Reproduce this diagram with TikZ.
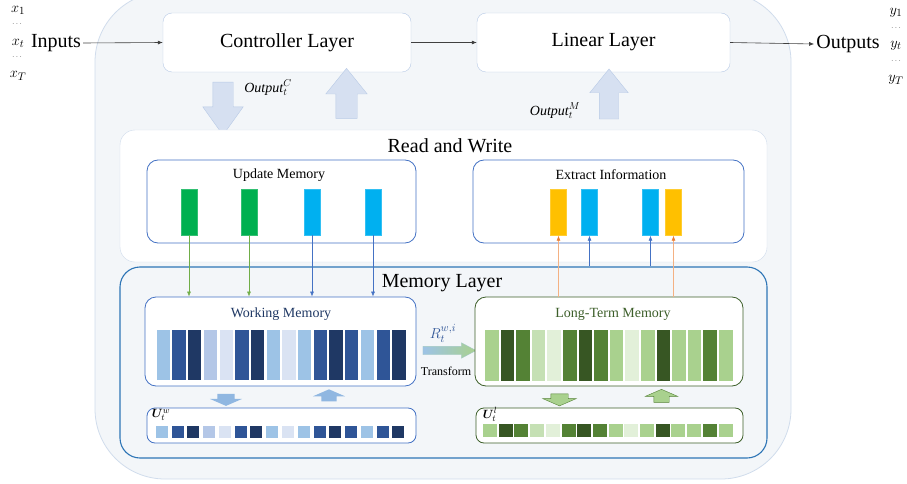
\documentclass[tikz,border=0pt]{standalone}
\usepackage{amsmath,bm}
\usepackage{fontspec}
\setmainfont{Liberation Serif}
\usetikzlibrary{arrows.meta,shapes.arrows}

\definecolor{outerbg}{HTML}{F3F6F9}
\definecolor{outerline}{HTML}{D0DCEC}
\definecolor{softline}{HTML}{B8CAE6}
\definecolor{fatfill}{HTML}{D6E0F1}
\definecolor{boxblue}{HTML}{4472C4}
\definecolor{memblue}{HTML}{2E75B6}
\definecolor{boxgreen}{HTML}{3D5F2A}
\definecolor{updgreen}{HTML}{00B050}
\definecolor{updcyan}{HTML}{00B0F0}
\definecolor{extyellow}{HTML}{FFC000}
\definecolor{linegreen}{HTML}{70AD47}
\definecolor{lineorange}{HTML}{F4B183}
\definecolor{tiporange}{HTML}{ED7D31}
\definecolor{wl}{HTML}{9DC3E6}
\definecolor{wm}{HTML}{2F5597}
\definecolor{wd}{HTML}{1F3864}
\definecolor{wp}{HTML}{B4C7E7}
\definecolor{wv}{HTML}{DAE3F3}
\definecolor{gl}{HTML}{A9D18E}
\definecolor{gm}{HTML}{548235}
\definecolor{gd}{HTML}{375623}
\definecolor{gp}{HTML}{C5E0B4}
\definecolor{gv}{HTML}{E2F0D9}

\begin{document}
\begin{tikzpicture}[x=1pt,y=-1pt,
    bigtext/.style={font=\fontsize{20}{24}\selectfont, inner sep=2pt},
    midtext/.style={font=\fontsize{14}{16}\selectfont, inner sep=1pt},
    smalltext/.style={font=\fontsize{12}{14}\selectfont, inner sep=1pt},
    mathtext/.style={font=\fontsize{15}{17}\selectfont, inner sep=1pt},
    layerbox/.style={draw=softline, fill=white, rounded corners=9pt, font=\fontsize{20}{24}\selectfont},
    innerbox/.style={draw=#1, fill=white, rounded corners=11pt, line width=0.8pt},
    bar/.style={minimum width=16pt, minimum height=46pt, inner sep=0pt, fill=#1, draw=#1!80!white},
    cell/.style={minimum width=13.3pt, minimum height=50pt, inner sep=0pt, fill=#1},
    square/.style={minimum width=12pt, minimum height=12.5pt, inner sep=0pt, fill=#1},
    fatarrow/.style={single arrow, draw=softline, fill=fatfill, inner sep=0pt},
    thinarrow/.style={draw=black!75, line width=0.6pt, -{Latex[length=5pt,width=4pt]}},
    linkarrow/.style={draw=#1, line width=0.6pt, -{Latex[length=5pt,width=4pt]}}]
  \useasboundingbox (0,0) rectangle (907,484);

  % Outer box
  \draw[draw=outerline, fill=outerbg, line width=0.8pt, rounded corners=70pt] (95,-8) rectangle (791,479);

  % Controller and linear layers
  \node[layerbox, minimum width=248pt, minimum height=59pt] (ctrl) at (287,42.5) {Controller Layer};
  \node[layerbox, minimum width=253pt, minimum height=59pt] (lin) at (603.5,42.5) {Linear Layer};

  % Inputs and outputs
  \node[bigtext] (inp) at (56,43) {Inputs};
  \node[mathtext] (x1) at (18,10) {$x_1$};
  \node[smalltext] (xd1) at (17,24) {\scriptsize$\ldots$};
  \node[mathtext] (xt) at (18,43) {$x_t$};
  \node[smalltext] (xd2) at (17,57) {\scriptsize$\ldots$};
  \node[mathtext] (xT) at (18,76) {$x_T$};
  \node[bigtext] (outp) at (848,44) {Outputs};
  \node[mathtext] (y1) at (896,13) {$y_1$};
  \node[smalltext] (yd1) at (896,28) {\scriptsize$\ldots$};
  \node[mathtext] (yt) at (896,46) {$y_t$};
  \node[smalltext] (yd2) at (896,61) {\scriptsize$\ldots$};
  \node[mathtext] (yT) at (896,80) {$y_T$};
  \draw[thinarrow] (inp.east) -- (ctrl.west);
  \draw[thinarrow] (ctrl.east) -- (lin.west);
  \draw[thinarrow] (lin.east) -- (outp.west);

  % Fat arrows to and from the read/write block
  \node[fatarrow, rotate=-90, minimum height=53pt, inner ysep=10pt,
        single arrow head extend=10pt, single arrow tip angle=71] (dnC) at (223,101.5) {};
  \node[fatarrow, rotate=90, minimum height=50pt, inner ysep=10.5pt,
        single arrow head extend=10pt, single arrow tip angle=78] (upC) at (346.5,100) {};
  \node[fatarrow, rotate=90, minimum height=50pt, inner ysep=9.5pt,
        single arrow head extend=9.5pt, single arrow tip angle=78] (upM) at (609,100) {};
  \node[mathtext, font=\fontsize{14}{16}\selectfont] (outC) at (268,88) {$\mathit{Output}_t^C$};
  \node[mathtext, font=\fontsize{14}{16}\selectfont] (outM) at (555,111) {$\mathit{Output}_t^M$};

  % Read and write block
  \node[draw=outerline, fill=white, rounded corners=15pt, minimum width=647pt, minimum height=132pt] (rw) at (443.5,196) {};
  \node[bigtext] (rwt) at (450,146) {Read and Write};

  \node[innerbox=boxblue, minimum width=269pt, minimum height=83pt] (upd) at (281.5,201.5) {};
  \node[midtext] (updt) at (279,175) {Update Memory};
  \node[bar=updgreen] (u1) at (189,212) {};
  \node[bar=updgreen] (u2) at (249,212) {};
  \node[bar=updcyan] (u3) at (312,212) {};
  \node[bar=updcyan] (u4) at (373,212) {};

  \node[innerbox=boxblue, minimum width=271pt, minimum height=83pt] (ext) at (608.5,201.5) {};
  \node[midtext] (extt) at (611,175) {Extract Information};
  \node[bar=extyellow] (e1) at (558.5,212.5) {};
  \node[bar=updcyan] (e2) at (589.5,212.5) {};
  \node[bar=updcyan] (e3) at (650.5,212.5) {};
  \node[bar=extyellow] (e4) at (673.5,212.5) {};

  % Memory layer
  \node[draw=memblue, line width=1.1pt, rounded corners=20pt, minimum width=647pt, minimum height=191pt] (mem) at (443.5,362.5) {};
  \node[bigtext] (memt) at (442,283) {Memory Layer};

  % Working memory
  \node[innerbox=boxblue, minimum width=271pt, minimum height=89pt] (wm) at (280.5,341.5) {};
  \node[midtext, text=wd] (wmt) at (281,314) {Working Memory};
  \foreach \c [count=\i] in {wl,wm,wd,wp,wv,wm,wd,wl,wv,wl,wm,wd,wm,wl,wm,wd}
    \node[cell=\c] (w\i) at ({163.35+15.7*(\i-1)},355) {};

  \node[innerbox=boxblue, rounded corners=8pt, minimum width=269pt, minimum height=35pt] (uw) at (281.5,425.5) {};
  \node[smalltext, font=\fontsize{13}{15}\selectfont] (uwt) at (161,415) {$\bm{U}_t^w$};
  \foreach \c [count=\i] in {wl,wm,wd,wp,wv,wm,wd,wl,wv,wl,wm,wd,wm,wl,wm,wd}
    \node[square=\c] (sw\i) at ({161.85+15.77*(\i-1)},432) {};
  \node[single arrow, fill=wl!85!boxblue, rotate=-90, inner sep=0pt, inner ysep=8.5pt, minimum height=12pt,
        single arrow head extend=7.5pt, single arrow tip angle=133] (wdn) at (226,398) {};
  \node[single arrow, fill=wl!85!boxblue, rotate=90, inner sep=0pt, inner ysep=7.5pt, minimum height=12pt,
        single arrow head extend=8.5pt, single arrow tip angle=133] (wup) at (329,397) {};

  % Transform arrow
  \node[single arrow, left color=wl, right color=gl, draw=wl!60!gl, inner sep=0pt, inner ysep=4pt, minimum height=53pt,
        single arrow head extend=3.5pt, single arrow tip angle=56] (tr) at (445.5,350.5) {};
  \node[font=\fontsize{15}{17}\selectfont, text=wm, inner sep=0pt] (rt) at (443,333) {$R_t^{w,i}$};
  \node[smalltext] (trt) at (446,371) {Transform};

  % Long-term memory
  \node[innerbox=boxgreen, minimum width=268pt, minimum height=89pt] (ltm) at (609,341.5) {};
  \node[midtext, text=boxgreen] (ltmt) at (613,314) {Long-Term Memory};
  \foreach \c [count=\i] in {gl,gd,gm,gp,gv,gm,gd,gm,gl,gv,gl,gd,gl,gl,gm,gl}
    \node[cell=\c, minimum width=13.5pt, minimum height=51pt] (l\i) at ({491.75+15.6*(\i-1)},355.5) {};

  \node[innerbox=boxgreen, rounded corners=8pt, minimum width=267pt, minimum height=35pt] (ul) at (609.5,425.5) {};
  \node[smalltext, font=\fontsize{13}{15}\selectfont] (ult) at (490,414.5) {$\bm{U}_t^l$};
  \foreach \c [count=\i] in {gl,gd,gm,gp,gv,gm,gd,gm,gl,gv,gl,gd,gl,gl,gm,gl}
    \node[square=\c, minimum width=14pt, minimum height=13pt] (sl\i) at ({490+15.7*(\i-1)},430.5) {};
  \node[single arrow, fill=gl, draw=gm, line width=0.4pt, rotate=-90, inner sep=0pt, inner ysep=8.5pt, minimum height=12pt,
        single arrow head extend=8pt, single arrow tip angle=133] (ldn) at (559.5,398) {};
  \node[single arrow, fill=gl, draw=gm, line width=0.4pt, rotate=90, inner sep=0pt, inner ysep=7.5pt, minimum height=13pt,
        single arrow head extend=8.5pt, single arrow tip angle=133] (lup) at (661.5,397.5) {};

  % Write links
  \draw[linkarrow=linegreen] (u1.south) -- (u1.south |- wm.north);
  \draw[linkarrow=linegreen] (u2.south) -- (u2.south |- wm.north);
  \draw[linkarrow=boxblue] (u3.south) -- (u3.south |- wm.north);
  \draw[linkarrow=boxblue] (u4.south) -- (u4.south |- wm.north);

  % Read links
  \draw[draw=lineorange, line width=0.6pt, -{Latex[length=5pt,width=4pt,color=tiporange]}] (e1.south |- ltm.north) -- (e1.south);
  \draw[draw=lineorange, line width=0.6pt, -{Latex[length=5pt,width=4pt,color=tiporange]}] (e4.south |- ltm.north) -- (e4.south);
  \draw[linkarrow=boxblue] (e2.south |- mem.north) -- (e2.south);
  \draw[linkarrow=boxblue] (e3.south |- mem.north) -- (e3.south);
\end{tikzpicture}
\end{document}
